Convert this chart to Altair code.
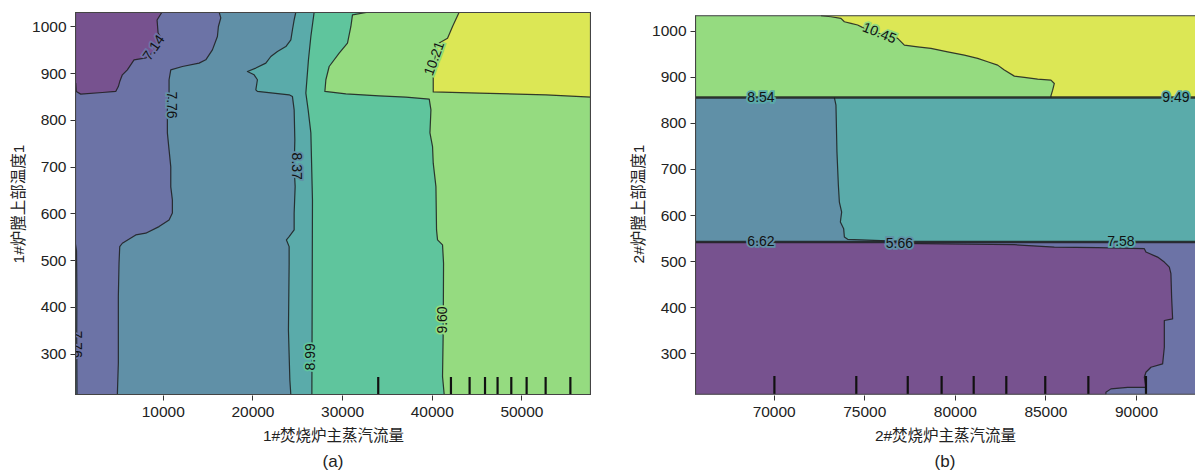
import altair as alt
import pandas as pd

FONT = "Liberation Sans, Noto Sans CJK SC, sans-serif"

# Fill colours of the contour levels (lowest -> highest)
LEVEL_COLORS = {
    "L1": "#77528f",
    "L2": "#6c73a6",
    "L3": "#6090a7",
    "L4": "#5aabaa",
    "L5": "#5fc59d",
    "L6": "#95db80",
    "L7": "#dce755",
}

# ---------------------------------------------------------------- panel (a)
a_x_domain = [210, 57760]
a_y_domain = [211.5, 1031]

# contour 7.14 (upper-left low pocket)
a_c1_x = [9921, 9364, 9475, 9921, 9252, 8136, 6796, 6049, 5491, 5200, 5044, 4754, 3259, 848, 357, 290]
a_c1_y = [1031, 1014, 986.5, 971.5, 950, 933, 928.7, 907.3, 896.6, 882.2, 871.5, 861, 858.7, 855.3, 861, 879]
# contour 7.76
a_c2_x = [16282, 16472, 16204, 16093, 15535, 14798, 14050, 12187, 10892, 10702, 10702, 10513, 10513, 10702,
          10892, 10892, 11071, 11071, 10702, 9586, 8102, 6986, 5491, 5200, 5122, 5044, 5044, 4933]
a_c2_y = [1031, 1018.6, 1000, 978.6, 950, 928.7, 921.6, 914.4, 907.3, 886, 858, 821.7, 772.4, 736,
          699.6, 656.8, 629, 601, 586, 571.8, 557.7, 554, 536.2, 529, 494, 422, 280, 211.5]
# contour 8.37
a_c3_x = [24842, 24652, 24463, 24284, 23726, 22789, 22052, 21494, 20378, 19441, 20188, 20557, 20378, 20557,
          24094, 24463, 24652, 24730, 24652, 24764, 24652, 24652, 24094, 23793, 24094, 24094, 24016, 24173, 24284]
a_c3_y = [1031, 1014, 993, 971.5, 957, 946.5, 935.8, 921.6, 911, 903.7, 896.6, 886, 864.5, 861,
          853.8, 850, 821.7, 757.4, 700, 657.4, 600.5, 564.7, 550.4, 543.3, 529, 493.4, 350.6, 243.6, 211.5]
# contour 8.99
a_c4_x = [26885, 26516, 26248, 25958, 26214, 26516, 26695, 26661, 26628]
a_c4_y = [1031, 978.6, 928.7, 857.4, 821.7, 772.4, 629, 415, 211.5]
# contour 9.60
a_c5_x = [33022, 31158, 30980, 30600, 29674, 28558, 28190, 28079, 30421, 34138, 37118, 39718,
          39908, 39797, 40087, 40165, 40466, 40533, 40645, 41202, 41315, 41281, 41202, 41393]
a_c5_y = [1031, 1025, 1000, 964.5, 943, 914.4, 886, 861, 856, 851.6, 849, 844.6,
          821.7, 772.4, 743, 707.5, 657.4, 564.7, 543.3, 532.6, 493.4, 350.6, 250.7, 211.5]
# contour 10.21
a_c6_x = [43067, 42319, 41761, 40834, 40466, 40165, 40165, 45298, 52742, 57760]
a_c6_y = [1031, 1000, 975, 964.5, 950, 893, 860, 857.6, 853.8, 849]
# thin strip on the left edge (7.76)
a_c7_x = [212, 380, 420, 400, 430]
a_c7_y = [540, 520, 430, 330, 211.5]

a_label_text = ["7.14", "7.76", "8.37", "8.99", "9.60", "10.21", "7.76"]
a_label_x = [9040, 10900, 24900, 26500, 41280, 40330, 330]
a_label_y = [954, 832, 701, 293, 372, 931, 320]
a_label_angle = [305, 90, 90, 270, 270, 290, 90]
a_label_under = ["L2", "L3", "L3", "L5", "L6", "L6", "L2"]

a_rug = [34030, 42140, 44220, 45940, 47340, 48870, 50580, 52700, 55460]
a_x_ticks = [10000, 20000, 30000, 40000, 50000]

# ---------------------------------------------------------------- panel (b)
b_x_domain = [65657, 93256]
b_y_domain = [209.3, 1040.7]
b_frame_y = [211, 1032.6]

b_upper_level = 855     # long horizontal contour (8.54 / 9.49)
b_lower_level = 541.5   # long horizontal contour (6.62 / 7.58)

# contour 10.45
b_c1_x = [72610, 73162, 73714, 73902, 74266, 74636, 75005, 75734, 76844, 77213, 77947, 78681, 79603,
          80524, 81259, 81811, 82363, 82732, 83284, 83836, 84570, 85304, 85492, 85398, 85304, 85304]
b_c1_y = [1032.6, 1030.4, 1027, 1019.6, 1016, 1012.4, 1005.2, 995, 983.5, 968.9, 965.2, 961.7, 954.3,
          947.2, 940, 932.6, 925.4, 914.6, 901.5, 898.7, 895, 892.8, 885.6, 871, 858.7, 855]
# contour between the two middle levels
b_c2_x = [73350, 73438, 73493, 73571, 73626, 73753, 73681, 73863, 73902, 74084, 75558, 77026]
b_c2_y = [855, 838.5, 737, 664.5, 628.2, 606.5, 584.8, 570.4, 552.2, 547.2, 545, 542.8]
# contour 5.66 (edge of the low region at the bottom)
b_c3_x = [76844, 83284, 85492, 87882, 90459, 90547, 91193, 91563, 91839, 91927, 91966, 92021,
          91563, 91563, 91469, 90823, 90547, 90459, 90547, 89537, 88615, 88339, 88339]
b_c3_y = [538.5, 535.6, 530.4, 529.1, 526.9, 519.6, 508.7, 497.8, 486.9, 472.6, 421.7, 374.7,
          371.1, 313, 276.9, 269.5, 258.7, 247.8, 226, 226, 222.6, 215.2, 211]

b_label_text = ["10.45", "8.54", "9.49", "6.62", "5.66", "7.58"]
b_label_x = [75830, 69300, 92200, 69300, 76940, 89170]
b_label_y = [994, 855, 855, 541.5, 538, 542.5]
b_label_angle = [22, 0, 0, 0, 0, 0]
b_label_under = ["L6", "L4", "L4", "L3", "L3", "L4"]

b_rug = [70040, 74560, 77400, 79270, 81040, 82840, 84990, 87370, 90550]
b_x_ticks = [70000, 75000, 80000, 85000, 90000]

y_ticks = [300, 400, 500, 600, 700, 800, 900, 1000]

LINE_COLOR = "#1c1c1c"
FRAME_COLOR = "#444444"


def encoders(x_dom, y_dom, x_title, y_title, x_ticks):
    x = alt.X("x:Q", scale=alt.Scale(domain=x_dom, nice=False, zero=False),
              axis=alt.Axis(values=x_ticks, format="d", title=x_title, titlePadding=9,
                            labelPadding=4))
    y = alt.Y("y:Q", scale=alt.Scale(domain=y_dom, nice=False, zero=False),
              axis=alt.Axis(values=y_ticks, format="d", title=y_title, titlePadding=5,
                            labelPadding=4))
    return x, y


def path_df(xs, ys):
    return pd.DataFrame({"x": xs, "y": ys, "i": list(range(len(xs)))})


def fill_layer(xs, ys, level, X, Y):
    return alt.Chart(path_df(xs, ys)).mark_line(
        filled=True, fill=LEVEL_COLORS[level], strokeOpacity=0, strokeWidth=0,
        interpolate="linear", clip=True
    ).encode(x=X, y=Y, order="i:Q")


def line_layer(xs, ys, X, Y, width=1.2):
    return alt.Chart(path_df(xs, ys)).mark_line(
        color=LINE_COLOR, strokeWidth=width, opacity=0.85, interpolate="linear",
        strokeJoin="round", clip=True
    ).encode(x=X, y=Y, order="i:Q")


def label_layers(texts, xs, ys, angles, unders, X, Y):
    # each contour label breaks its line: a thin halo in the local fill colour, then the text
    out = []
    for t, x, y, a, u in zip(texts, xs, ys, angles, unders):
        df = pd.DataFrame({"x": [x], "y": [y], "t": [t]})
        common = dict(angle=a, font=FONT, fontSize=14, clip=True, align="center", baseline="middle")
        out.append(alt.Chart(df).mark_text(
            color=LEVEL_COLORS[u], stroke=LEVEL_COLORS[u], strokeWidth=3.5, **common
        ).encode(x=X, y=Y, text="t:N"))
        out.append(alt.Chart(df).mark_text(color="#111111", **common).encode(x=X, y=Y, text="t:N"))
    return out


def rug_layer(values, X, y_px):
    df = pd.DataFrame({"x": values})
    return alt.Chart(df).mark_rule(color="#111111", strokeWidth=2.2, clip=True).encode(
        x=X, y=alt.value(y_px), y2=alt.value(y_px - 18))


def frame_layer(segments, X, Y, width):
    df = pd.DataFrame(segments, columns=["x", "y", "x2", "y2"])
    return alt.Chart(df).mark_rule(color=FRAME_COLOR, strokeWidth=width, clip=True).encode(
        x=X, y=Y, x2="x2:Q", y2="y2:Q")


HEIGHT = 383

# ---------------- panel (a)
AX, AY = encoders(a_x_domain, a_y_domain, "1#焚烧炉主蒸汽流量", "1#炉膛上部温度1", a_x_ticks)
ax0, ax1 = a_x_domain
ay0, ay1 = a_y_domain


def left_of(xs, ys, extra=()):
    px = [ax0] + xs + [e[0] for e in extra] + [ax0]
    py = [ay1] + ys + [e[1] for e in extra] + [ay0]
    return px, py


a_layers = [fill_layer([ax0, ax1, ax1, ax0], [ay0, ay0, ay1, ay1], "L7", AX, AY)]
a_layers.append(fill_layer(*left_of(a_c6_x, a_c6_y, extra=[(ax1, ay0)]), "L6", AX, AY))
a_layers.append(fill_layer(*left_of(a_c5_x, a_c5_y), "L5", AX, AY))
a_layers.append(fill_layer(*left_of(a_c4_x, a_c4_y), "L4", AX, AY))
a_layers.append(fill_layer(*left_of(a_c3_x, a_c3_y), "L3", AX, AY))
a_layers.append(fill_layer(*left_of(a_c2_x, a_c2_y), "L2", AX, AY))
a_layers.append(fill_layer([ax0] + a_c1_x + [ax0], [ay1] + a_c1_y + [a_c1_y[-1]], "L1", AX, AY))
a_layers.append(fill_layer([ax0] + a_c7_x + [ax0], [a_c7_y[0]] + a_c7_y + [ay0], "L3", AX, AY))
for cx, cy in [(a_c1_x, a_c1_y), (a_c2_x, a_c2_y), (a_c3_x, a_c3_y), (a_c4_x, a_c4_y),
               (a_c5_x, a_c5_y), (a_c6_x, a_c6_y), (a_c7_x, a_c7_y)]:
    a_layers.append(line_layer(cx, cy, AX, AY))
a_layers += label_layers(a_label_text, a_label_x, a_label_y, a_label_angle, a_label_under, AX, AY)
a_layers.append(rug_layer(a_rug, AX, HEIGHT))
a_layers.append(frame_layer([[ax0, ay0, ax1, ay0], [ax0, ay1, ax1, ay1],
                             [ax0, ay0, ax0, ay1], [ax1, ay0, ax1, ay1]], AX, AY, 2.2))

caption_style = dict(orient="bottom", fontSize=17, font=FONT, fontWeight="normal",
                     color="#222222", offset=10, anchor="middle")
panel_a = alt.layer(*a_layers).properties(
    width=516, height=HEIGHT, title=alt.TitleParams(text="(a)", **caption_style))

# ---------------- panel (b)
BX, BY = encoders(b_x_domain, b_y_domain, "2#焚烧炉主蒸汽流量", "2#炉膛上部温度1", b_x_ticks)
bx0, bx1 = b_x_domain
fy0, fy1 = b_frame_y

b_layers = [fill_layer([bx0, bx1, bx1, bx0], [fy0, fy0, fy1, fy1], "L2", BX, BY)]
b_layers.append(fill_layer([bx0] + b_c3_x + [bx0], [b_lower_level] + b_c3_y + [fy0], "L1", BX, BY))
b_layers.append(fill_layer([bx0, bx1, bx1, bx0],
                           [b_lower_level, b_lower_level, b_upper_level, b_upper_level], "L3", BX, BY))
b_layers.append(fill_layer(b_c2_x + [bx1, bx1], b_c2_y + [b_lower_level, b_upper_level], "L4", BX, BY))
b_layers.append(fill_layer([bx0, bx1, bx1, bx0],
                           [b_upper_level, b_upper_level, fy1, fy1], "L6", BX, BY))
b_layers.append(fill_layer(b_c1_x + [bx1, bx1], b_c1_y + [b_upper_level, fy1], "L7", BX, BY))
for cx, cy in [(b_c1_x, b_c1_y), (b_c2_x, b_c2_y), (b_c3_x, b_c3_y)]:
    b_layers.append(line_layer(cx, cy, BX, BY))
for lvl in [b_upper_level, b_lower_level]:
    b_layers.append(line_layer([bx0, bx1], [lvl, lvl], BX, BY, width=2.6))
b_layers += label_layers(b_label_text, b_label_x, b_label_y, b_label_angle, b_label_under, BX, BY)
b_layers.append(rug_layer(b_rug, BX, HEIGHT - 1))
b_layers.append(frame_layer([[bx0, fy0, bx1, fy0], [bx0, fy1, bx1, fy1]], BX, BY, 1.1))
b_layers.append(frame_layer([[bx0, fy0, bx0, fy1]], BX, BY, 2.2))

panel_b = alt.layer(*b_layers).properties(
    width=500, height=HEIGHT, title=alt.TitleParams(text="(b)", **caption_style))

chart = alt.hconcat(panel_a, panel_b, spacing=40).properties(
    padding={"left": 11, "top": 12, "right": 0, "bottom": 0},
    background="white",
).configure_view(
    strokeOpacity=0
).configure_axis(
    labelFont=FONT, labelFontSize=15.5, labelColor="#222222",
    titleFont=FONT, titleFontSize=15.5, titleFontWeight="normal", titleColor="#222222",
    tickColor="#333333", tickSize=5, tickWidth=1, domain=False, grid=False,
)

chart.save("out.html", embed_options={"renderer": "svg", "actions": False})
